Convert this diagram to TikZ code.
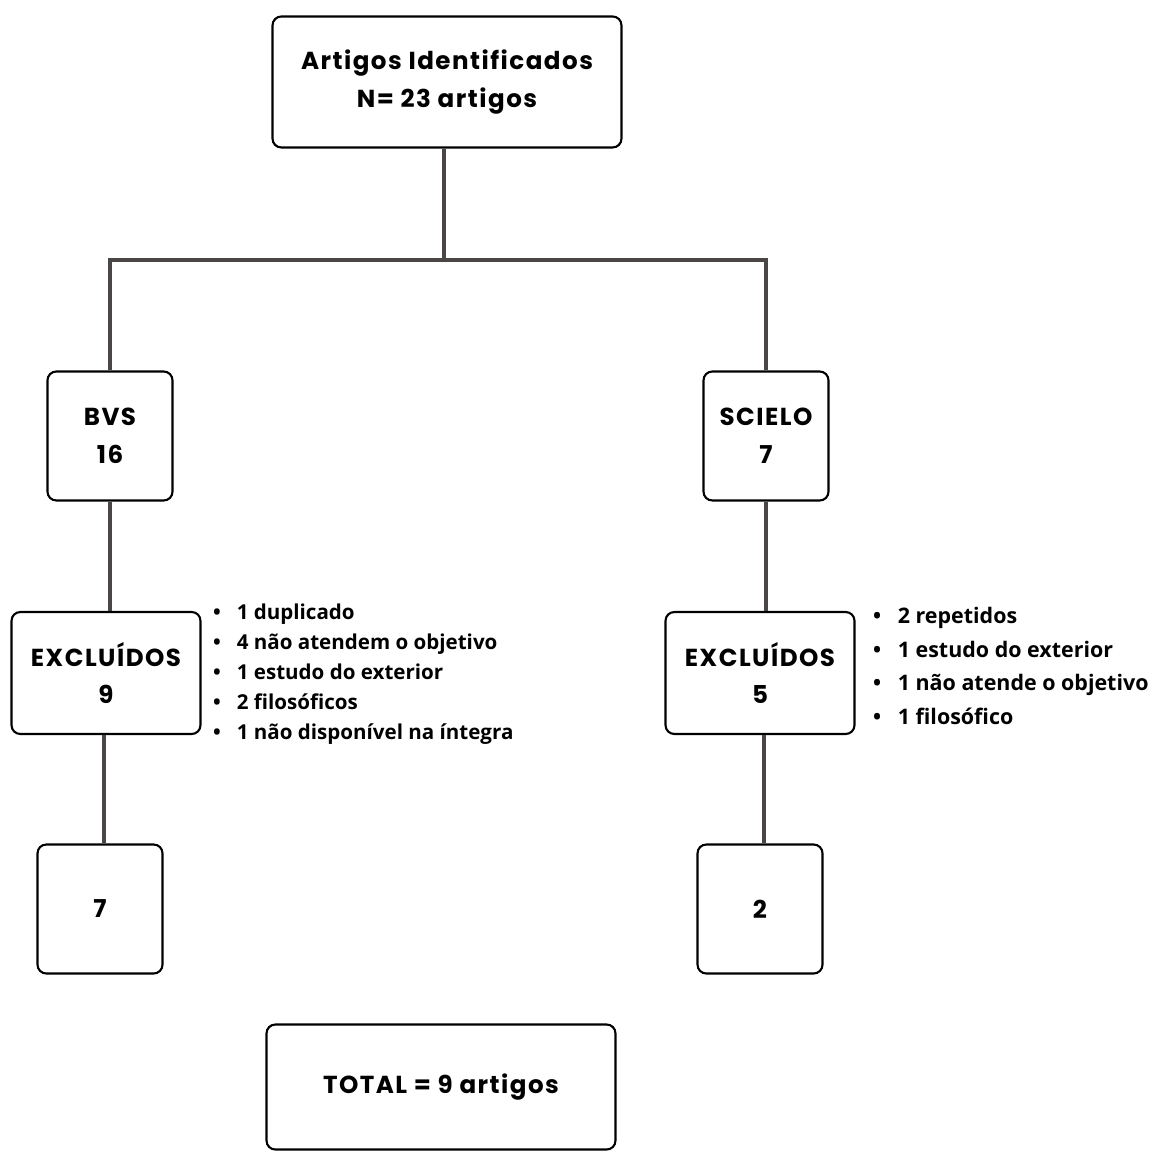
\documentclass[tikz,border=0pt]{standalone}
\usepackage{fontspec}
\setmainfont{Poppins}[LetterSpace=6]
\newfontfamily\listfont{Open Sans}
\usetikzlibrary{positioning}
\definecolor{trunkgray}{HTML}{4A4645}
\tikzset{
  box/.style={draw, very thick, rounded corners=5pt, align=center,
    font=\fontsize{14}{21.5}\selectfont\bfseries},
  trunk/.style={trunkgray, line width=2.6pt},
  bullets/.style={anchor=west, align=left, font=\listfont\bfseries}
}
\newcommand{\bitem}[1]{\makebox[1.15em][l]{\textbullet}#1}
\begin{document}
\begin{tikzpicture}[x=0.02cm,y=-0.02cm]
\useasboundingbox (0,0) rectangle (1169,1151);
\node[box, minimum width=6.98cm, minimum height=2.62cm] (ident) at (447,82) {Artigos Identificados\\N= 23 artigos};
\node[box, minimum width=2.5cm, minimum height=2.58cm] (bvs) at (110,436) {BVS\\16};
\node[box, minimum width=2.5cm, minimum height=2.58cm] (scielo) at (766,436) {SCIELO\\7};
\node[box, minimum width=3.78cm, minimum height=2.44cm] (exclbvs) at (106,673) {EXCLUÍDOS\\9};
\node[box, minimum width=3.78cm, minimum height=2.44cm] (exclsci) at (760,673) {EXCLUÍDOS\\5};
\node[box, minimum width=2.5cm, minimum height=2.58cm] (finbvs) at (100,909) {7};
\node[box, minimum width=2.5cm, minimum height=2.58cm] (finsci) at (760,909) {2};
\node[box, minimum width=6.98cm, minimum height=2.5cm] (total) at (441,1087) {TOTAL = 9 artigos};

\node[bullets, font=\listfont\bfseries\fontsize{11.7}{17}\selectfont] (listbvs) at (207,674)
  {\bitem{1 duplicado}\\ \bitem{4 não atendem o objetivo}\\ \bitem{1 estudo do exterior}\\
   \bitem{2 filosóficos}\\ \bitem{1 não disponível na íntegra}};
\node[bullets, font=\listfont\bfseries\fontsize{12.2}{19.3}\selectfont] (listsci) at (867,666)
  {\bitem{2 repetidos}\\ \bitem{1 estudo do exterior}\\ \bitem{1 não atende o objetivo}\\
   \bitem{1 filosófico}};

\coordinate (split) at (444,260);
\draw[trunk] (split |- ident.south) -- (split);
\draw[trunk] (split) -| (bvs.north);
\draw[trunk] (split) -| (scielo.north);
\draw[trunk] (bvs) -- (bvs |- exclbvs.north);
\draw[trunk] (exclbvs.south -| 104,0) -- (finbvs.north -| 104,0);
\draw[trunk] (scielo) -- (scielo |- exclsci.north);
\draw[trunk] (exclsci.south -| 764,0) -- (finsci.north -| 764,0);
\end{tikzpicture}
\end{document}
